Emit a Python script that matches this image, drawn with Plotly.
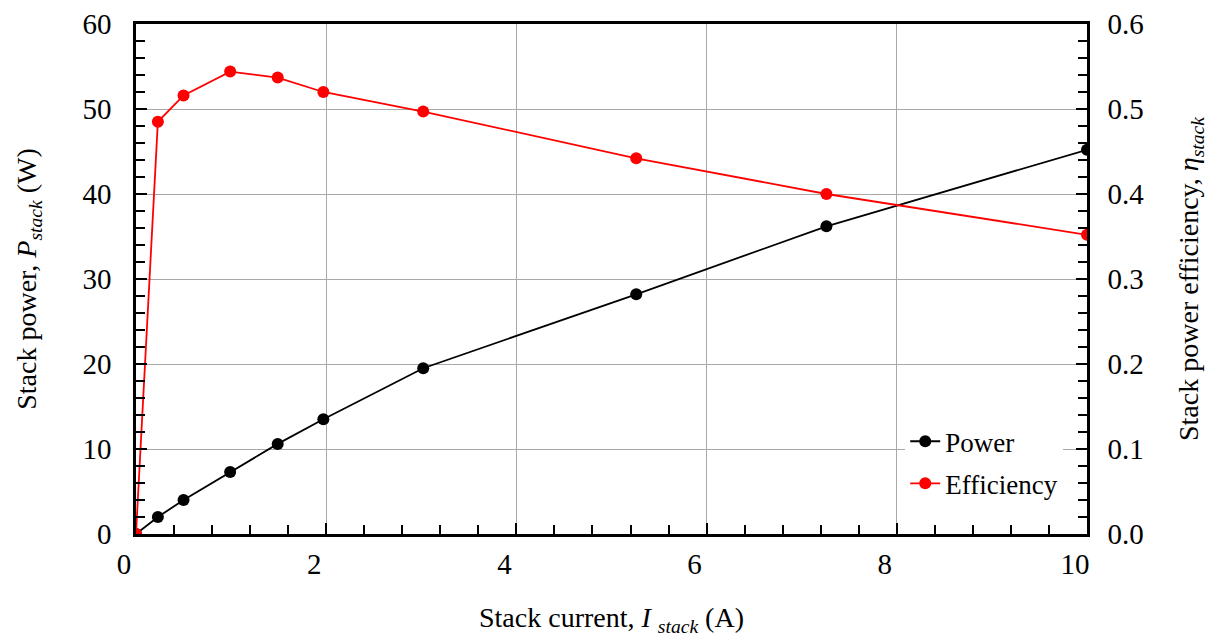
import plotly.graph_objects as go

# Data
current = [0.0, 0.23, 0.50, 0.99, 1.49, 1.97, 3.02, 5.26, 7.26, 10.0]
power = [0.0, 2.0, 4.0, 7.3, 10.6, 13.5, 19.5, 28.2, 36.2, 45.2]
efficiency = [0.0, 0.485, 0.516, 0.544, 0.537, 0.520, 0.497, 0.442, 0.400, 0.352]

FONT = "Palatino Linotype, Book Antiqua, Palatino, Liberation Serif, serif"
GRID = "#a8a8a8"
TICKFONT = dict(family=FONT, size=29, color="black")
TITLEFONT = dict(family=FONT, size=28, color="black")

fig = go.Figure()
fig.add_trace(go.Scatter(
    x=current, y=power, name="Power", mode="lines+markers",
    line=dict(color="black", width=1.8),
    marker=dict(color="black", size=12),
    legendgroup="p",
))
fig.add_trace(go.Scatter(
    x=current, y=efficiency, name="Efficiency", mode="lines+markers",
    line=dict(color="#ff0000", width=1.8),
    marker=dict(color="#ff0000", size=12),
    yaxis="y2", legendgroup="e",
))

fig.update_layout(
    width=1215, height=637,
    margin=dict(l=136, r=128, t=24, b=103),
    paper_bgcolor="white", plot_bgcolor="white",
    font=dict(family=FONT, size=28, color="black"),
    showlegend=True,
    legend=dict(
        x=0.975, xanchor="right", y=0.229, yanchor="top",
        bgcolor="white", borderwidth=0,
        font=dict(family=FONT, size=27),
        tracegroupgap=4,
    ),
    xaxis=dict(
        range=[0, 10], dtick=2, tick0=0,
        showline=True, linecolor="black", linewidth=2.5, mirror=True,
        ticks="inside", ticklen=11, tickwidth=2, tickcolor="black",
        minor=dict(dtick=0.4, ticks="inside", ticklen=9, tickwidth=2, tickcolor="black", showgrid=False),
        showgrid=True, gridcolor=GRID, gridwidth=1,
        zeroline=False, automargin=False,
        tickfont=TICKFONT,
        ticklabelshift=-12, ticklabelstandoff=2,
        title=dict(text="Stack current, <i>I</i> <sub><i>stack</i></sub> (A)", standoff=32,
                   font=TITLEFONT),
    ),
    yaxis=dict(
        range=[0, 60], dtick=10, tick0=0,
        showline=True, linecolor="black", linewidth=2.5,
        ticks="inside", ticklen=11, tickwidth=2, tickcolor="black",
        minor=dict(dtick=2, ticks="inside", ticklen=9, tickwidth=2, tickcolor="black", showgrid=False),
        showgrid=True, gridcolor=GRID, gridwidth=1,
        zeroline=False, automargin=False,
        tickfont=TICKFONT,
        ticklabelstandoff=16,
        title=dict(text="Stack power, <i>P<sub>stack</sub></i> (W)", standoff=38,
                   font=TITLEFONT),
    ),
    yaxis2=dict(
        range=[0, 0.6], dtick=0.1, tick0=0, tickformat=".1f",
        overlaying="y", side="right",
        showline=True, linecolor="black", linewidth=2.5,
        ticks="inside", ticklen=11, tickwidth=2, tickcolor="black",
        minor=dict(dtick=0.02, ticks="inside", ticklen=9, tickwidth=2, tickcolor="black", showgrid=False),
        showgrid=False, zeroline=False, automargin=False,
        tickfont=TICKFONT,
        ticklabelstandoff=12,
        title=dict(text="Stack power efficiency, <i>η<sub>stack</sub></i>", standoff=36,
                   font=TITLEFONT),
    ),
)

fig.write_html("out.html", config={"displayModeBar": False},
               post_script="document.body.style.margin='0';")
